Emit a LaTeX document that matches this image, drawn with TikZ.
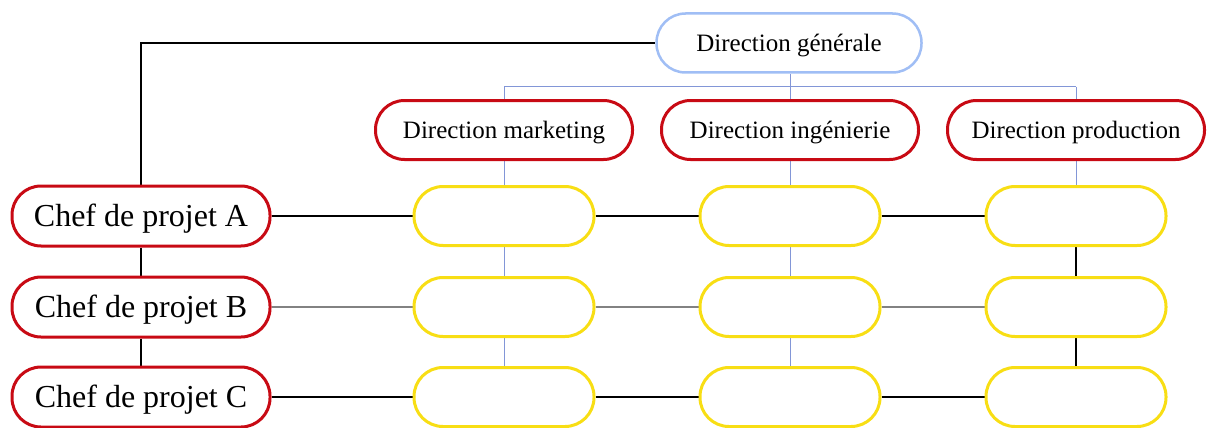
\documentclass[tikz,border=0pt]{standalone}
\usepackage{fontspec}
\setmainfont{Liberation Serif}
\usetikzlibrary{backgrounds}
\definecolor{redb}{RGB}{200,10,20}
\definecolor{yelb}{RGB}{248,222,20}
\definecolor{blueb}{RGB}{160,190,245}
\definecolor{bluel}{RGB}{130,150,215}
\definecolor{grayl}{RGB}{130,130,130}
\tikzset{
  pill/.style={rectangle, rounded corners=29pt, fill=white, inner sep=0pt, minimum height=59pt, text depth=0pt},
  dirbox/.style={pill, draw=redb, line width=3pt, minimum width=257pt, text height=16.5pt, font=\fontsize{25}{28}\selectfont},
  chefbox/.style={pill, draw=redb, line width=3pt, minimum width=258pt, minimum height=60pt, text height=21pt, font=\fontsize{32}{36}\selectfont},
  genbox/.style={pill, draw=blueb, line width=2.5pt, minimum width=265pt, text height=16.5pt, font=\fontsize{25}{28}\selectfont},
  cellbox/.style={pill, draw=yelb, line width=3pt, minimum width=180pt},
  blink/.style={draw=bluel, line width=1pt},
  klink/.style={draw=black, line width=1.4pt},
  glink/.style={draw=grayl, line width=1.6pt}
}
\begin{document}
\begin{tikzpicture}[x=1pt,y=-1pt]
\useasboundingbox (0,0) rectangle (1208,428);
\node[genbox] (dg) at (789,43) {Direction générale};
\node[dirbox] (dm) at (504,130) {Direction marketing};
\node[dirbox] (di) at (790,130) {Direction ingénierie};
\node[dirbox] (dp) at (1076,130) {Direction production};
\node[chefbox] (ca) at (141,216) {Chef de projet A};
\node[chefbox] (cb) at (141,307) {Chef de projet B};
\node[chefbox] (cc) at (141,397) {Chef de projet C};
\foreach \r/\y in {a/216,b/307,c/397}{
  \node[cellbox] (m\r) at (504,\y) {};
  \node[cellbox] (i\r) at (790,\y) {};
  \node[cellbox] (p\r) at (1076,\y) {};
}
\coordinate (busg) at (790,87);
\coordinate (busm) at (504,87);
\coordinate (busp) at (1076,87);
\coordinate (corner) at (141,43);
\begin{scope}[on background layer]
  \draw[blink] (dg.south -| busg) -- (busg);
  \draw[blink] (busm) -- (busp);
  \draw[blink] (busm) -- (dm.north);
  \draw[blink] (busg) -- (di.north);
  \draw[blink] (busp) -- (dp.north);
  \draw[blink] (dm.south) -- (mc.south);
  \draw[blink] (di.south) -- (ic.south);
  \draw[blink] (dp.south) -- (pa.north);
  \draw[klink] (pa.south) -- (pb.north);
  \draw[klink] (pb.south) -- (pc.north);
  \draw[klink] (ca.north) -- (corner) -- (dg.west);
  \draw[klink] (ca.south) -- (cb.north);
  \draw[klink] (cb.south) -- (cc.north);
  \draw[klink] (ca.east) -- (ma.west);
  \draw[klink] (ma.east) -- (ia.west);
  \draw[klink] (ia.east) -- (pa.west);
  \draw[glink] (cb.east) -- (mb.west);
  \draw[glink] (mb.east) -- (ib.west);
  \draw[glink] (ib.east) -- (pb.west);
  \draw[klink] (cc.east) -- (mc.west);
  \draw[klink] (mc.east) -- (ic.west);
  \draw[klink] (ic.east) -- (pc.west);
\end{scope}
\end{tikzpicture}
\end{document}
